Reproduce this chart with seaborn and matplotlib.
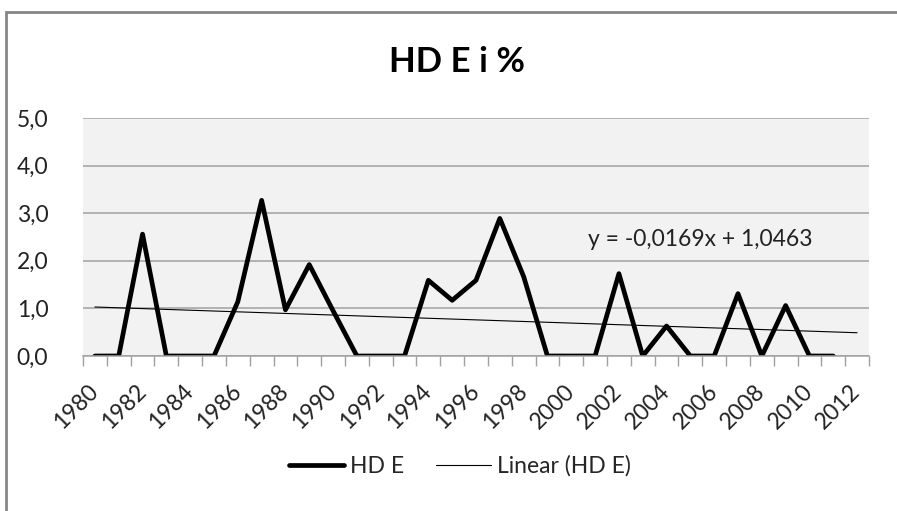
import numpy as np
import pandas as pd
import matplotlib
matplotlib.use("Agg")
import matplotlib.pyplot as plt
import seaborn as sns
from matplotlib.patches import Rectangle
from matplotlib.ticker import FixedLocator

# ---- data ----
years = list(range(1980, 2012))
hde = [0, 0, 2.56, 0, 0, 0, 1.14, 3.27, 0.97, 1.92, 0.95, 0, 0, 0, 1.59, 1.17,
       1.59, 2.89, 1.67, 0, 0, 0, 1.73, 0, 0.63, 0, 0, 1.31, 0, 1.06, 0, 0]
axis_years = list(range(1980, 2013))
trend_slope = -0.0169
trend_intercept = 1.0463
yticks = [0, 1, 2, 3, 4, 5]
title = "HD E i %"
series_label = "HD E"
trend_label = "Linear (HD E)"

sns.set_style("white")
plt.rcParams["font.family"] = ["Lato", "DejaVu Sans"]

FS = 16.5
W, H = 897, 511
fig = plt.figure(figsize=(W / 100, H / 100), dpi=100)
ax = fig.add_axes([83 / W, 1 - 356 / H, (869 - 83) / W, (356 - 118) / H])
ax.set_facecolor("#f2f2f2")

df = pd.DataFrame({"idx": np.arange(len(years)), "val": hde})
sns.lineplot(data=df, x="idx", y="val", ax=ax, color="black", lw=3.4,
             label=series_label)
xt = np.arange(len(axis_years))
trend = trend_intercept + trend_slope * (xt + 1)
sns.lineplot(x=xt, y=trend, ax=ax, color="black", lw=0.8, label=trend_label)

ax.set_xlim(-0.5, len(axis_years) - 0.5)
ax.set_ylim(0, 5)
ax.set_xlabel("")
ax.set_ylabel("")

# y axis
ax.set_yticks(yticks)
ax.set_yticklabels([f"{v:.1f}".replace(".", ",") for v in yticks],
                   fontsize=FS, color="#222222")
ax.tick_params(axis="y", length=0, pad=25)
ax.yaxis.grid(True, color="#a0a0a0", lw=1.1)
ax.set_axisbelow(True)

# x axis
major = [i for i, y in enumerate(axis_years) if y % 2 == 0]
ax.set_xticks(major)
ax.set_xticklabels([str(axis_years[i]) for i in major], fontsize=FS,
                   rotation=45, ha="right", va="center",
                   rotation_mode="anchor", color="#222222")
ax.xaxis.set_minor_locator(FixedLocator(np.arange(-0.5, len(axis_years), 1)))
ax.tick_params(axis="x", which="major", length=0, pad=23)
ax.tick_params(axis="x", which="minor", length=7, width=1, color="#a0a0a0",
               direction="out", bottom=True)

for s in ["left", "right", "top"]:
    ax.spines[s].set_visible(False)
ax.spines["bottom"].set_color("#a0a0a0")
ax.spines["bottom"].set_linewidth(1.1)

# equation
ax.text(20.7, 2.44, "y = -0,0169x + 1,0463", fontsize=FS, ha="left",
        va="center", color="#222222")

# title
fig.text(457 / W, 1 - 62 / H, title, fontsize=25, fontweight="bold",
         ha="center", va="center", color="black")

# legend
handles, labels = ax.get_legend_handles_labels()
ax.get_legend().remove()
fig.legend(handles, labels, loc="center", bbox_to_anchor=(460 / W, 1 - 466 / H),
           ncol=2, frameon=False, fontsize=FS, handlelength=2.4,
           handletextpad=0.25, columnspacing=1.4)

# chart border
fig.patches.append(Rectangle((6 / W, -0.2), 2, 1 - 12 / H + 0.2,
                             transform=fig.transFigure, fill=False,
                             edgecolor="#868686", lw=2, clip_on=False))

fig.savefig("out.png", dpi=100)
